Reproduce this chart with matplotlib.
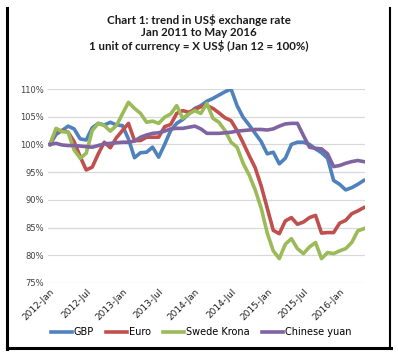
import matplotlib
matplotlib.use("Agg")
import matplotlib.pyplot as plt
from matplotlib.lines import Line2D
import numpy as np

months = ["2012-Jan", "2012-Jul", "2013-Jan", "2013-Jul", "2014-Jan",
          "2014-Jul", "2015-Jan", "2015-Jul", "2016-Jan"]

gbp = [100, 101.8, 102.5, 103.3, 102.8, 101, 100.8, 103, 103.8, 103.5, 104, 103.5,
       103.4, 101, 97.6, 98.5, 98.6, 99.5, 97.7, 100, 102.5, 103.8, 104.5, 105.5,
       106.5, 107, 107.8, 108.3, 108.9, 109.5, 110, 107, 104.9, 103.5, 102, 100.5,
       98.3, 98.6, 96.5, 97.5, 100, 100.4, 100.4, 100, 99.2, 98.5, 97.5, 93.5,
       92.8, 91.8, 92.2, 92.8, 93.5]
euro = [100, 102.5, 102.5, 102.2, 100.5, 97.8, 95.4, 95.9, 98.3, 100.4, 99.4, 101.2,
        102.5, 103.8, 100.7, 100.7, 101.3, 101.3, 101.3, 103.2, 103.6, 105.6, 106.1, 105.8,
        106.3, 106.8, 107, 106.5, 105.7, 104.8, 104.3, 102.5, 100.3, 98, 95.8, 92.5,
        88.5, 84.5, 83.9, 86.2, 86.8, 85.6, 86, 86.8, 87.2, 84, 84.1, 84.1,
        85.8, 86.3, 87.5, 88, 88.6]
krona = [100, 102.9, 102.3, 102.2, 99, 97.5, 98.4, 102.5, 103.8, 103.4, 102.4, 103.4,
         105.5, 107.6, 106.5, 105.6, 104, 104.2, 103.8, 104.9, 105.5, 107, 104.7, 105.5,
         106.1, 105.6, 107.4, 104.7, 104, 102.5, 100.4, 99.5, 96.6, 94.5, 91.8, 88.5,
         84, 80.8, 79.4, 82, 83, 81.2, 80.3, 81.5, 82.3, 79.4, 80.5, 80.3,
         80.8, 81.2, 82.3, 84.4, 84.8]
yuan = [100, 100.2, 99.9, 99.8, 99.8, 99.7, 99.6, 99.5, 99.8, 100.1, 100.2, 100.3,
        100.4, 100.4, 100.6, 101.3, 101.7, 102, 102.1, 102.4, 102.8, 102.9, 102.9, 103.1,
        103.3, 102.8, 102, 102, 102, 102.1, 102.2, 102.4, 102.5, 102.6, 102.7, 102.7,
        102.6, 102.8, 103.3, 103.7, 103.8, 103.8, 101.6, 99.5, 99.3, 99.2, 98.3, 96,
        96.2, 96.6, 96.9, 97.1, 96.9]

series = [("GBP", gbp, "#4F81BD"), ("Euro", euro, "#C0504D"),
          ("Swede Krona", krona, "#9BBB59"), ("Chinese yuan", yuan, "#8064A2")]

W, H = 398, 359
fig = plt.figure(figsize=(W/100, H/100), dpi=100)
ax = fig.add_axes([48/W, 1-283/H, (365-48)/W, (283-89)/H])

x = np.arange(len(gbp))
handles = []
for name, vals, col in series:
    h, = ax.plot(x, vals, color=col, lw=2.6, label=name, solid_joinstyle='round')
    handles.append(h)

ax.set_ylim(75, 110)
ax.set_xlim(-0.33, 52.2)
yt = np.arange(75, 111, 5)
ax.set_yticks(yt)
ax.set_yticklabels([f"{v}%" for v in yt], fontsize=6, color="#404040")
ax.set_xticks(np.arange(0, 49, 6))
ax.set_xticklabels(months, rotation=45, ha="right", va="top", fontsize=6.5,
                   rotation_mode="anchor", color="#202020")
ax.tick_params(length=0, pad=3)
ax.grid(axis="y", color="#D9D9D9", lw=0.9)
ax.set_axisbelow(True)
for s in ax.spines.values():
    s.set_visible(False)

title_lines = ["Chart 1: trend in US$ exchange rate", "Jan 2011 to May 2016",
               "1 unit of currency = X US$ (Jan 12 = 100%)"]
for i, t in enumerate(title_lines):
    fig.text(0.5, 1-(20+13*i)/H, t, ha="center", va="center", fontsize=8.3,
             fontweight="bold", family="Lato", color="#1a1a1a")

fig.legend(handles=handles, loc="center", bbox_to_anchor=(0.505, 1-332/H), ncol=4,
           frameon=False, fontsize=7, handlelength=2.2, handletextpad=0.2,
           columnspacing=1.2, borderaxespad=0)

# frame
tr = None
fig.add_artist(Line2D([7.5/W, 7.5/W], [1-8/H, 1-349/H], color="black", lw=2.2,
                      transform=fig.transFigure))
fig.add_artist(Line2D([389.5/W, 389.5/W], [1-8/H, 1-349/H], color="black", lw=1.5,
                      transform=fig.transFigure))
fig.add_artist(Line2D([6.5/W, 390.5/W], [1-348/H, 1-348/H], color="black", lw=2.2,
                      transform=fig.transFigure))

fig.savefig("out.png", dpi=100)
